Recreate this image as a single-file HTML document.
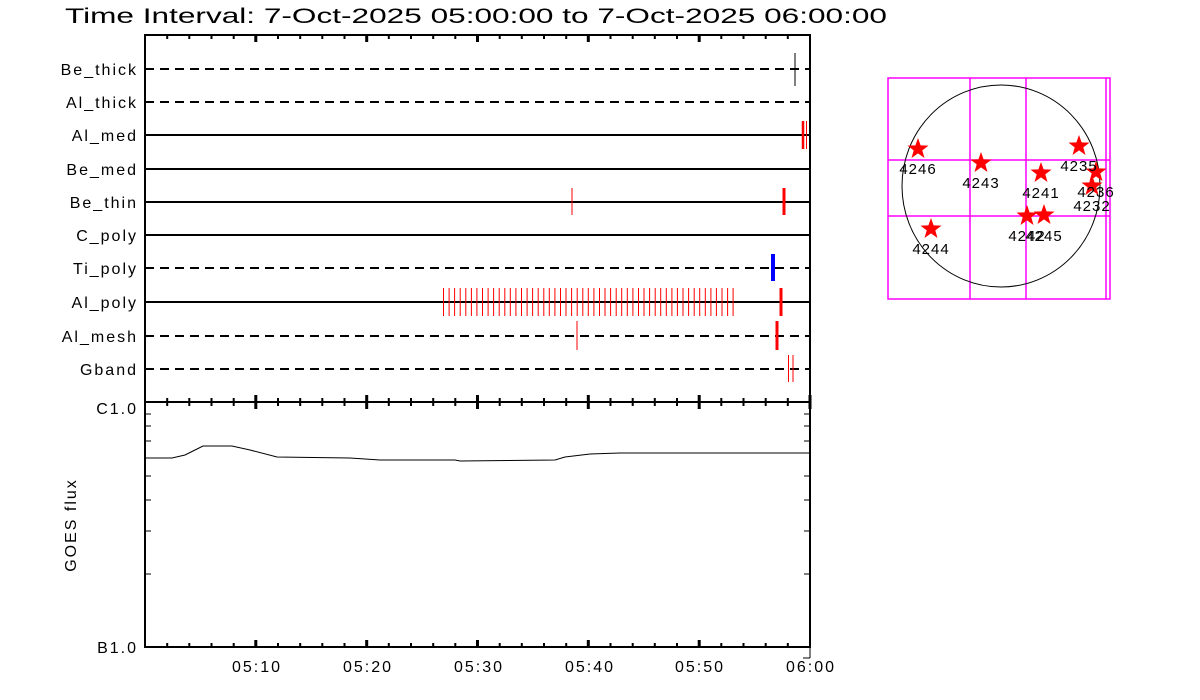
<!DOCTYPE html>
<html><head><meta charset="utf-8"><style>body{margin:0;background:#fff}svg{display:block}</style></head><body>
<svg width="1200" height="700" xmlns="http://www.w3.org/2000/svg" font-family="Liberation Sans, sans-serif">
<rect width="1200" height="700" fill="#fff"/>
<text x="65" y="23" font-size="21" fill="#000" textLength="822" lengthAdjust="spacingAndGlyphs">Time Interval:  7-Oct-2025 05:00:00 to  7-Oct-2025 06:00:00</text>
<g stroke="#000" stroke-width="2" fill="none">
<rect x="145" y="35" width="665" height="612"/>
<line x1="145" y1="402" x2="810" y2="402"/>
</g>
<g stroke="#000" stroke-width="2">
<line x1="145" y1="69" x2="810" y2="69" stroke-dasharray="9,6"/>
<line x1="145" y1="102" x2="810" y2="102" stroke-dasharray="9,6"/>
<line x1="145" y1="135" x2="810" y2="135"/>
<line x1="145" y1="169" x2="810" y2="169"/>
<line x1="145" y1="202" x2="810" y2="202"/>
<line x1="145" y1="235" x2="810" y2="235"/>
<line x1="145" y1="268" x2="810" y2="268" stroke-dasharray="9,6"/>
<line x1="145" y1="302" x2="810" y2="302"/>
<line x1="145" y1="336" x2="810" y2="336" stroke-dasharray="9,6"/>
<line x1="145" y1="369" x2="810" y2="369" stroke-dasharray="9,6"/>
</g>
<g font-size="16" text-anchor="end" fill="#000" letter-spacing="2">
<text x="138" y="75">Be_thick</text><text x="138" y="108">Al_thick</text><text x="138" y="141">Al_med</text>
<text x="138" y="175">Be_med</text><text x="138" y="208">Be_thin</text><text x="138" y="241">C_poly</text>
<text x="138" y="274">Ti_poly</text><text x="138" y="308">Al_poly</text><text x="138" y="342">Al_mesh</text>
<text x="138" y="375">Gband</text>
</g>
<line x1="795" y1="53" x2="795" y2="86" stroke="#000" stroke-width="1"/>
<g stroke="#f00">
<line x1="803" y1="121" x2="803" y2="149" stroke-width="2.5"/>
<line x1="806.5" y1="121" x2="806.5" y2="149" stroke-width="1"/>
<line x1="572" y1="188" x2="572" y2="215" stroke-width="1"/>
<line x1="784" y1="188" x2="784" y2="215" stroke-width="3"/>
<line x1="781" y1="288" x2="781" y2="316" stroke-width="3"/>
<line x1="577" y1="321" x2="577" y2="350" stroke-width="1"/>
<line x1="777" y1="321" x2="777" y2="350" stroke-width="3"/>
<line x1="788.5" y1="355" x2="788.5" y2="382" stroke-width="1"/>
<line x1="793" y1="355" x2="793" y2="382" stroke-width="1"/>
</g>
<line x1="773" y1="254" x2="773" y2="281" stroke="#00f" stroke-width="4"/>
<path stroke="#f00" stroke-width="1" fill="none" d="M443.5 288v28M449.1 288v28M454.6 288v28M460.2 288v28M465.8 288v28M471.4 288v28M476.9 288v28M482.5 288v28M488.1 288v28M493.6 288v28M499.2 288v28M504.8 288v28M510.3 288v28M515.9 288v28M521.5 288v28M527.1 288v28M532.6 288v28M538.2 288v28M543.8 288v28M549.3 288v28M554.9 288v28M560.5 288v28M566 288v28M571.6 288v28M577.2 288v28M582.8 288v28M588.3 288v28M593.9 288v28M599.5 288v28M605 288v28M610.6 288v28M616.2 288v28M621.7 288v28M627.3 288v28M632.9 288v28M638.5 288v28M644 288v28M649.6 288v28M655.2 288v28M660.7 288v28M666.3 288v28M671.9 288v28M677.4 288v28M683 288v28M688.6 288v28M694.2 288v28M699.7 288v28M705.3 288v28M710.9 288v28M716.4 288v28M722 288v28M727.6 288v28M733.1 288v28"/>
<path stroke="#000" stroke-width="2" fill="none" d="M167.2 35v4M189.3 35v4M211.5 35v4M233.7 35v4M278 35v4M300.2 35v4M322.3 35v4M344.5 35v4M388.8 35v4M411 35v4M433.2 35v4M455.3 35v4M499.7 35v4M521.8 35v4M544 35v4M566.2 35v4M610.5 35v4M632.7 35v4M654.8 35v4M677 35v4M721.3 35v4M743.5 35v4M765.7 35v4M787.8 35v4
M167.2 398v8M189.3 398v8M211.5 398v8M233.7 398v8M278 398v8M300.2 398v8M322.3 398v8M344.5 398v8M388.8 398v8M411 398v8M433.2 398v8M455.3 398v8M499.7 398v8M521.8 398v8M544 398v8M566.2 398v8M610.5 398v8M632.7 398v8M654.8 398v8M677 398v8M721.3 398v8M743.5 398v8M765.7 398v8M787.8 398v8
M167.2 647v-4M189.3 647v-4M211.5 647v-4M233.7 647v-4M278 647v-4M300.2 647v-4M322.3 647v-4M344.5 647v-4M388.8 647v-4M411 647v-4M433.2 647v-4M455.3 647v-4M499.7 647v-4M521.8 647v-4M544 647v-4M566.2 647v-4M610.5 647v-4M632.7 647v-4M654.8 647v-4M677 647v-4M721.3 647v-4M743.5 647v-4M765.7 647v-4M787.8 647v-4"/>
<path stroke="#000" stroke-width="3" fill="none" d="M255.8 35v7M366.7 35v7M477.5 35v7M588.3 35v7M699.2 35v7M255.8 395v14M366.7 395v14M477.5 395v14M588.3 395v14M699.2 395v14M810 395v14M255.8 647v-7M366.7 647v-7M477.5 647v-7M588.3 647v-7M699.2 647v-7"/>
<path stroke="#000" stroke-width="1" fill="none" d="M145 414h6M145 426h6M145 441h6M145 476h6M145 500h6M145 531h6M145 574h6M804 414h6M804 426h6M804 441h6M804 476h6M804 500h6M804 531h6M804 574h6M810 647v11M803 658h7"/>
<polyline fill="none" stroke="#000" stroke-width="1" points="145,458 172,458 185,455 195,450 203,446 232,446 250,450 277,457 350,458 380,460 455,460 460,461 555,460 565,457 590,454 620,453 810,453"/>
<g font-size="16" fill="#000" letter-spacing="2">
<text x="138" y="414" text-anchor="end">C1.0</text>
<text x="138" y="653" text-anchor="end">B1.0</text>
<text x="257" y="672" text-anchor="middle">05:10</text>
<text x="368" y="672" text-anchor="middle">05:20</text>
<text x="479" y="672" text-anchor="middle">05:30</text>
<text x="590" y="672" text-anchor="middle">05:40</text>
<text x="700" y="672" text-anchor="middle">05:50</text>
<text x="811" y="672" text-anchor="middle">06:00</text>
<text transform="translate(76,525) rotate(-90)" text-anchor="middle">GOES flux</text>
</g>
<g stroke="#f0f" stroke-width="1.5" fill="none">
<rect x="888" y="78" width="222" height="221"/>
<line x1="1106" y1="78" x2="1106" y2="299"/>
<line x1="970" y1="78" x2="970" y2="299"/><line x1="1026" y1="78" x2="1026" y2="299"/>
<line x1="888" y1="160" x2="1110" y2="160"/><line x1="888" y1="216" x2="1110" y2="216"/>
</g>
<ellipse cx="1001" cy="186" rx="99" ry="101" fill="none" stroke="#000" stroke-width="1"/>
<defs><polygon id="st" points="0,-11 2.6,-3.6 10.5,-3.4 4.3,1.4 6.5,9 0,4.4 -6.5,9 -4.3,1.4 -10.5,-3.4 -2.6,-3.6" fill="#f00"/></defs>
<use href="#st" x="918" y="149"/><use href="#st" x="981" y="163"/><use href="#st" x="1041" y="173"/>
<use href="#st" x="1079" y="146"/><use href="#st" x="1096" y="172"/><use href="#st" x="1092" y="186"/>
<use href="#st" x="1027" y="216"/><use href="#st" x="1044" y="215"/><use href="#st" x="931" y="229"/>
<g font-size="15" fill="#000" text-anchor="middle" letter-spacing="1">
<text x="918" y="174">4246</text><text x="981" y="188">4243</text><text x="1041" y="198">4241</text>
<text x="1079" y="171">4235</text><text x="1096" y="197">4236</text><text x="1092" y="211">4232</text>
<text x="1027" y="241">4242</text><text x="1044" y="241">4245</text><text x="931" y="254">4244</text>
</g>
</svg>
</body></html>
